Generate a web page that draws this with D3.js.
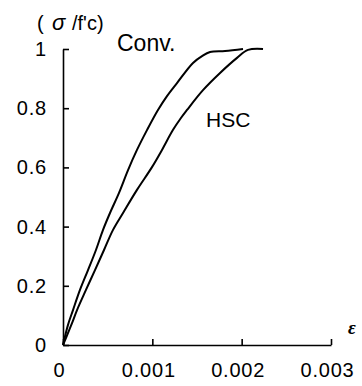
<!DOCTYPE html>
<html>
<head>
<meta charset="utf-8">
<script src="https://cdn.jsdelivr.net/npm/d3@7"></script>
<style>
  body { margin: 0; background: #fff; }
  text { font-family: "Liberation Sans", Arial, sans-serif; fill: #000; }
</style>
</head>
<body>
<div id="chart"></div>
<script>
// strain (x1e-3) and normalised stress
const convStrain = [0, 0.056, 0.112, 0.190, 0.280, 0.369, 0.448, 0.526, 0.627, 0.728, 0.828, 0.940, 1.063, 1.164, 1.276, 1.455, 1.556, 1.646, 1.814, 2.015];
const convStress = [0, 0.068, 0.118, 0.186, 0.253, 0.321, 0.389, 0.446, 0.514, 0.591, 0.659, 0.726, 0.794, 0.841, 0.885, 0.953, 0.976, 0.990, 0.993, 1.0];
const hscStrain = [0, 0.034, 0.101, 0.157, 0.257, 0.358, 0.459, 0.560, 0.672, 0.828, 0.996, 1.108, 1.230, 1.320, 1.388, 1.567, 1.758, 1.948, 2.071, 2.239];
const hscStress = [0, 0.024, 0.074, 0.118, 0.186, 0.253, 0.321, 0.389, 0.446, 0.524, 0.601, 0.659, 0.726, 0.767, 0.794, 0.861, 0.919, 0.970, 0.997, 1.0];

const xTicks = [0, 0.001, 0.002, 0.003];
const xTickLabels = ["0", "0.001", "0.002", "0.003"];
const yTicks = [0, 0.2, 0.4, 0.6, 0.8, 1];
const yTickLabels = ["0", "0.2", "0.4", "0.6", "0.8", "1"];

const Width = 362, Height = 386;
let svg = d3.select("#chart").append("svg")
            .attr("width", Width)
            .attr("height", Height);

let x = d3.scaleLinear().domain([0, 0.003]).range([63, 331]);
let y = d3.scaleLinear().domain([0, 1]).range([345, 49]);

// axes, ticks pointing inwards
let xAxis = svg.append("g")
        .attr("transform", "translate(0," + y(0) + ")")
        .call(d3.axisBottom(x)
            .tickValues(xTicks)
            .tickFormat((d, i) => xTickLabels[i])
            .tickSizeInner(-6)
            .tickSizeOuter(0)
            .tickPadding(18));
xAxis.selectAll("text").attr("dx", "-4px");

let yAxis = svg.append("g")
        .attr("transform", "translate(" + x(0) + ",0)")
        .call(d3.axisLeft(y)
            .tickValues(yTicks)
            .tickFormat((d, i) => yTickLabels[i])
            .tickSizeInner(-6)
            .tickSizeOuter(0)
            .tickPadding(16));

svg.selectAll(".domain, .tick line").attr("stroke", "#000").attr("stroke-width", 1.6);
svg.selectAll(".tick text")
   .style("font-family", "'Liberation Sans', Arial, sans-serif")
   .style("font-size", "20px")
   .style("letter-spacing", "0.8px")
   .attr("fill", "#000");

// stress-strain curves
let line = d3.line()
        .x(d => x(d[0] / 1000))
        .y(d => y(d[1]))
        .curve(d3.curveCatmullRom);

let curves = [d3.zip(convStrain, convStress), d3.zip(hscStrain, hscStress)];
svg.selectAll("path.curve")
   .data(curves)
   .enter()
     .append("path")
     .attr("class", "curve")
     .attr("d", line)
     .attr("fill", "none")
     .attr("stroke", "#000")
     .attr("stroke-width", 2);

// labels
let title = svg.append("text").attr("y", 30).style("font-size", "20px");
title.append("tspan").attr("x", 37).text("(");
title.append("tspan").attr("x", 52).style("font-style", "italic").style("font-size", "22px").text("σ");
title.append("tspan").attr("x", 72).text("/f'c)");

svg.append("text").attr("x", 117).attr("y", 51).style("font-size", "23px").text("Conv.");
svg.append("text").attr("x", 206).attr("y", 127).style("font-size", "21px").text("HSC");
svg.append("text").attr("x", 348).attr("y", 334)
   .style("font-family", "'Liberation Serif', serif")
   .style("font-style", "italic")
   .style("font-weight", "bold")
   .style("font-size", "19px")
   .text("ε");
</script>
</body>
</html>
